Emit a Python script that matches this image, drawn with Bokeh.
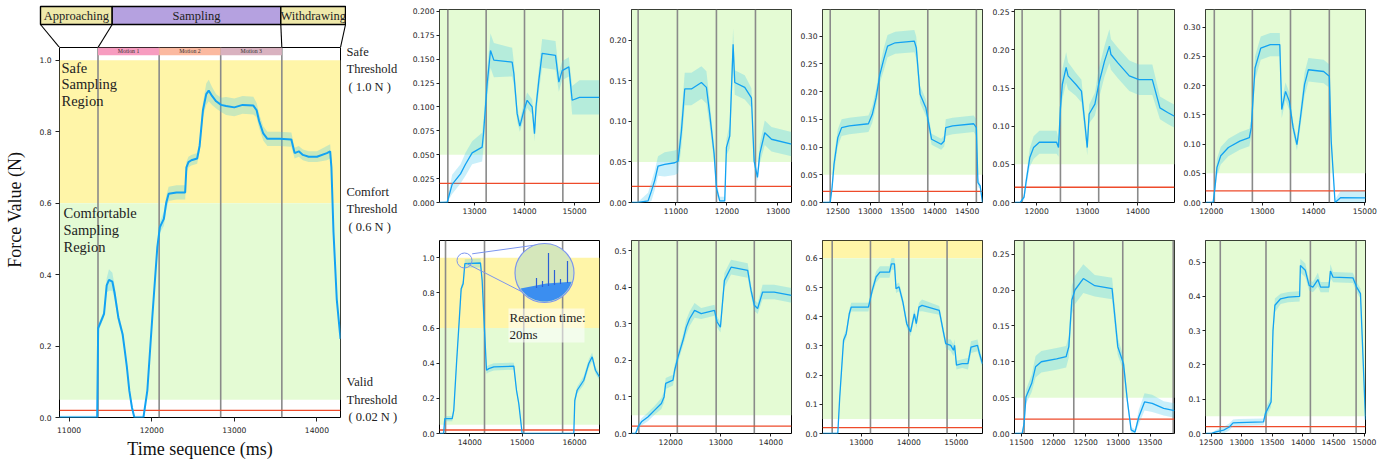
import numpy as np
from bokeh.plotting import figure
from bokeh.layouts import row, column
from bokeh.models import Range1d, FixedTicker, PrintfTickFormatter, Span, BoxAnnotation
from bokeh.core.properties import value
from bokeh.embed import file_html
from bokeh.resources import INLINE

# ---------------------------------------------------------------- data
main_t = [10884, 11340, 11352, 11423, 11455, 11483, 11524, 11550, 11596, 11648, 11675, 11700, 11729, 11761,
          11790, 11900, 11947, 12007, 12068, 12099, 12147, 12175, 12205, 12300, 12405, 12420, 12445, 12480,
          12550, 12580, 12620, 12660, 12690, 12730, 12780, 12840, 12900, 13000, 13100, 13230, 13270, 13300,
          13350, 13400, 13550, 13690, 13730, 13780, 13830, 13900, 14000, 14120, 14160, 14175, 14200, 14240, 14285]
main_v = [0.0, 0.0, 0.25, 0.29, 0.37, 0.385, 0.38, 0.35, 0.28, 0.233, 0.186, 0.14, 0.075, 0.028,
          0.0, 0.0, 0.075, 0.28, 0.477, 0.533, 0.556, 0.60, 0.626, 0.63, 0.63, 0.70, 0.715, 0.72,
          0.725, 0.76, 0.86, 0.905, 0.915, 0.90, 0.885, 0.875, 0.872, 0.868, 0.875, 0.873, 0.86, 0.83,
          0.795, 0.78, 0.78, 0.778, 0.74, 0.745, 0.735, 0.73, 0.73, 0.74, 0.745, 0.70, 0.52, 0.33, 0.22]
main_s = [0.005, 0.005, 0.01, 0.01, 0.02, 0.03, 0.025, 0.02, 0.015, 0.01, 0.01, 0.01, 0.01, 0.01,
          0.005, 0.005, 0.01, 0.01, 0.01, 0.015, 0.02, 0.02, 0.02, 0.02, 0.02, 0.015, 0.015, 0.015,
          0.015, 0.015, 0.02, 0.03, 0.03, 0.025, 0.02, 0.02, 0.025, 0.025, 0.025, 0.025, 0.02, 0.02,
          0.02, 0.02, 0.02, 0.02, 0.015, 0.015, 0.015, 0.015, 0.015, 0.02, 0.02, 0.015, 0.01, 0.005, 0.005]
main_phases = [11350, 12090, 12835, 13575]
main_ytop = 1.0356
main_xticks = [11000, 12000, 13000, 14000]
main_yticks = [0.0, 0.2, 0.4, 0.6, 0.8, 1.0]
phase_names = ["Approaching", "Sampling", "Withdrawing"]
motion_names = ["Motion 1", "Motion 2", "Motion 3"]
safe_thr, comfort_thr, valid_thr, valid_band = 1.0, 0.6, 0.02, 0.05

t1 = [12300, 12453, 12553, 12720, 12820, 12953, 13153, 13180, 13253, 13320, 13387, 13753, 13787, 13853, 13907,
      13987, 14053, 14153, 14200, 14230, 14287, 14353, 14620, 14687, 14753, 14887, 14953, 15100, 15500]
v1 = [0.0, 0.0, 0.019, 0.030, 0.040, 0.052, 0.058, 0.072, 0.124, 0.159, 0.149, 0.147, 0.135, 0.093, 0.080,
      0.096, 0.107, 0.100, 0.072, 0.100, 0.128, 0.156, 0.154, 0.126, 0.138, 0.142, 0.107, 0.110, 0.110]
s1 = [0.0, 0.002, 0.01, 0.01, 0.012, 0.012, 0.015, 0.015, 0.015, 0.018, 0.018, 0.015, 0.012, 0.008, 0.006,
      0.008, 0.008, 0.008, 0.008, 0.01, 0.012, 0.015, 0.015, 0.01, 0.01, 0.01, 0.015, 0.018, 0.018]

t2 = [10130, 10260, 10455, 10520, 10584, 10650, 10780, 10977, 11043, 11108, 11173, 11304, 11500, 11598, 11663,
      11749, 11794, 11859, 11957, 11990, 12055, 12121, 12153, 12349, 12480, 12533, 12598, 12643, 12741, 12873, 13265]
v2 = [0.0, 0.0, 0.002, 0.014, 0.027, 0.045, 0.047, 0.049, 0.051, 0.088, 0.140, 0.140, 0.148, 0.142, 0.109,
      0.060, 0.018, 0.002, 0.002, 0.068, 0.082, 0.195, 0.148, 0.142, 0.129, 0.051, 0.031, 0.060, 0.086, 0.078, 0.072]
s2 = [0.0, 0.001, 0.01, 0.012, 0.012, 0.012, 0.015, 0.015, 0.015, 0.02, 0.02, 0.02, 0.02, 0.02, 0.015,
      0.01, 0.008, 0.005, 0.005, 0.01, 0.015, 0.02, 0.015, 0.015, 0.012, 0.008, 0.005, 0.012, 0.015, 0.015, 0.015]

t3 = [12263, 12382, 12411, 12441, 12500, 12559, 12678, 12973, 13033, 13092, 13151, 13210, 13269, 13388,
      13683, 13713, 13772, 13861, 13950, 14098, 14145, 14169, 14275, 14601, 14642, 14666, 14701, 14737]
v3 = [0.0, 0.0, 0.027, 0.069, 0.117, 0.135, 0.138, 0.142, 0.159, 0.189, 0.231, 0.258, 0.282, 0.288,
      0.291, 0.279, 0.195, 0.171, 0.114, 0.105, 0.111, 0.135, 0.138, 0.142, 0.135, 0.036, 0.030, 0.0]
s3 = [0.0, 0.002, 0.01, 0.015, 0.015, 0.015, 0.015, 0.015, 0.015, 0.015, 0.015, 0.02, 0.02, 0.02,
      0.02, 0.02, 0.015, 0.015, 0.01, 0.01, 0.01, 0.015, 0.015, 0.015, 0.015, 0.008, 0.005, 0.0]

t4 = [11561, 11674, 11750, 11788, 11864, 11939, 12053, 12394, 12432, 12470, 12508, 12583, 12621, 12773, 12886,
      12962, 13000, 13038, 13152, 13227, 13341, 13439, 13470, 13606, 13833, 14023, 14288, 14439, 14591, 14727]
v4 = [0.0, 0.0, 0.007, 0.026, 0.059, 0.072, 0.079, 0.079, 0.072, 0.124, 0.155, 0.177, 0.166, 0.155, 0.146,
      0.098, 0.072, 0.116, 0.129, 0.155, 0.185, 0.205, 0.194, 0.183, 0.166, 0.161, 0.161, 0.124, 0.118, 0.113]
s4 = [0.0, 0.0, 0.004, 0.008, 0.012, 0.015, 0.015, 0.015, 0.012, 0.015, 0.02, 0.02, 0.018, 0.015, 0.015,
      0.012, 0.01, 0.012, 0.015, 0.02, 0.02, 0.022, 0.02, 0.02, 0.02, 0.02, 0.02, 0.015, 0.015, 0.015]

t5 = [11888, 12037, 12074, 12112, 12186, 12335, 12558, 12745, 12782, 12856, 12968, 13154, 13340, 13378,
      13452, 13526, 13601, 13675, 13735, 13824, 13899, 14197, 14308, 14345, 14420, 14532, 15015]
v5 = [0.0, 0.0, 0.026, 0.060, 0.080, 0.094, 0.105, 0.111, 0.128, 0.230, 0.264, 0.270, 0.270, 0.159,
      0.190, 0.173, 0.128, 0.099, 0.139, 0.202, 0.227, 0.224, 0.216, 0.105, 0.0, 0.0085, 0.008]
s5 = [0.0, 0.002, 0.01, 0.015, 0.015, 0.015, 0.015, 0.015, 0.015, 0.02, 0.02, 0.02, 0.02, 0.015,
      0.015, 0.015, 0.01, 0.01, 0.015, 0.02, 0.02, 0.02, 0.02, 0.01, 0.005, 0.012, 0.012]

t6 = [13421, 13500, 13522, 13664, 13694, 13746, 13790, 13835, 13873, 13905, 14204, 14236, 14281, 14319,
      14363, 14459, 14841, 14892, 14936, 15000, 15987, 16006, 16051, 16178, 16273, 16338, 16401, 16478]
v6 = [0.0, 0.0, 0.085, 0.085, 0.133, 0.398, 0.606, 0.824, 0.852, 0.966, 0.970, 0.871, 0.587, 0.360,
      0.369, 0.379, 0.383, 0.246, 0.170, 0.0, 0.0, 0.189, 0.246, 0.303, 0.398, 0.436, 0.360, 0.322]
s6 = [0.0, 0.005, 0.015, 0.015, 0.015, 0.02, 0.02, 0.02, 0.02, 0.025, 0.025, 0.02, 0.02, 0.02,
      0.02, 0.02, 0.02, 0.015, 0.01, 0.0, 0.0, 0.02, 0.02, 0.025, 0.025, 0.025, 0.02, 0.02]

t7 = [11219, 11300, 11352, 11418, 11551, 11682, 11815, 11869, 11901, 12047, 12080, 12146, 12246, 12312, 12378,
      12477, 12610, 12874, 12927, 12993, 13073, 13206, 13537, 13603, 13669, 13735, 13835, 14066, 14411]
v7 = [0.0, 0.0, 0.018, 0.032, 0.046, 0.064, 0.082, 0.100, 0.137, 0.146, 0.173, 0.209, 0.255, 0.291, 0.314,
      0.337, 0.328, 0.337, 0.305, 0.291, 0.419, 0.455, 0.446, 0.392, 0.351, 0.342, 0.387, 0.387, 0.378]
s7 = [0.0, 0.002, 0.008, 0.01, 0.012, 0.012, 0.015, 0.015, 0.015, 0.015, 0.015, 0.015, 0.015, 0.02, 0.02,
      0.02, 0.015, 0.015, 0.015, 0.015, 0.02, 0.02, 0.02, 0.015, 0.015, 0.015, 0.02, 0.02, 0.02]

t8 = [12183, 12505, 12546, 12626, 12683, 12747, 12788, 13150, 13231, 13311, 13392, 13594, 13634, 13698, 13731,
      13795, 13876, 13956, 14037, 14117, 14158, 14214, 14279, 14641, 14722, 14778, 14883, 14940, 14964, 15004,
      15125, 15246, 15310, 15447, 15488, 15552]
v8 = [0.0, 0.0, 0.125, 0.319, 0.342, 0.41, 0.433, 0.433, 0.49, 0.536, 0.553, 0.553, 0.581, 0.581, 0.496,
      0.502, 0.45, 0.376, 0.348, 0.41, 0.376, 0.433, 0.439, 0.422, 0.353, 0.308, 0.302, 0.285, 0.302, 0.234,
      0.239, 0.239, 0.296, 0.302, 0.274, 0.239]
s8 = [0.0, 0.003, 0.015, 0.015, 0.015, 0.015, 0.015, 0.015, 0.015, 0.02, 0.02, 0.02, 0.02, 0.02, 0.015,
      0.015, 0.015, 0.015, 0.015, 0.015, 0.015, 0.015, 0.02, 0.015, 0.015, 0.015, 0.02, 0.02, 0.02, 0.015,
      0.015, 0.02, 0.02, 0.02, 0.015, 0.015]

t9 = [11393, 11512, 11542, 11571, 11660, 11720, 11809, 12046, 12194, 12236, 12283, 12331, 12461, 12639,
      12907, 12936, 12996, 13085, 13144, 13203, 13263, 13322, 13411, 13530, 13708, 13876]
v9 = [0.0, 0.0, 0.014, 0.051, 0.070, 0.093, 0.100, 0.104, 0.107, 0.121, 0.186, 0.200, 0.216, 0.206,
      0.202, 0.176, 0.121, 0.097, 0.046, 0.005, 0.002, 0.023, 0.044, 0.042, 0.035, 0.032]
s9 = [0.0, 0.001, 0.005, 0.01, 0.012, 0.015, 0.015, 0.015, 0.015, 0.015, 0.02, 0.02, 0.02, 0.015,
      0.015, 0.015, 0.012, 0.01, 0.008, 0.004, 0.004, 0.01, 0.012, 0.012, 0.01, 0.01]

t10 = [12410, 12500, 12581, 12705, 12798, 12860, 12953, 13356, 13387, 13480, 13511, 13542, 13635, 13759,
       13945, 13958, 14038, 14100, 14162, 14243, 14287, 14423, 14448, 14491, 14814, 14876, 14938, 15020]
v10 = [0.0, 0.0, 0.005, 0.010, 0.019, 0.031, 0.032, 0.034, 0.058, 0.092, 0.300, 0.374, 0.393, 0.398,
       0.400, 0.490, 0.476, 0.432, 0.427, 0.449, 0.427, 0.427, 0.474, 0.456, 0.454, 0.427, 0.408, 0.04]
s10 = [0.0, 0.002, 0.005, 0.01, 0.01, 0.01, 0.01, 0.01, 0.015, 0.015, 0.02, 0.02, 0.015, 0.015,
       0.015, 0.02, 0.02, 0.015, 0.015, 0.02, 0.015, 0.015, 0.02, 0.015, 0.015, 0.015, 0.015, 0.01]

phases = [[12467, 13233, 14000, 14767], [10260, 11030, 11794, 12559], [12382, 13139, 13891, 14642],
          [11712, 12470, 13227, 14000], [12060, 12804, 13549, 14308], [13536, 14281, 15031, 15773],
          [11365, 12133, 12908, 13669], [12387, 13193, 14000, 14806], [11542, 12313, 13073, 13856],
          [12651, 13397, 14121, 14867]]
ytops = [0.202, 0.238, 0.348, 0.253, 0.33, 1.098, 0.528, 0.661, 0.269, 0.563]
yticks = [[0, 0.025, 0.05, 0.075, 0.1, 0.125, 0.15, 0.175, 0.2], [0, 0.05, 0.1, 0.15, 0.2],
          [0, 0.05, 0.1, 0.15, 0.2, 0.25, 0.3], [0, 0.05, 0.1, 0.15, 0.2, 0.25],
          [0, 0.05, 0.1, 0.15, 0.2, 0.25, 0.3], [0, 0.2, 0.4, 0.6, 0.8, 1.0],
          [0, 0.1, 0.2, 0.3, 0.4, 0.5], [0, 0.1, 0.2, 0.3, 0.4, 0.5, 0.6],
          [0, 0.05, 0.1, 0.15, 0.2, 0.25], [0, 0.1, 0.2, 0.3, 0.4, 0.5]]
yfmts = ["%.3f", "%.2f", "%.2f", "%.2f", "%.2f", "%.1f", "%.1f", "%.1f", "%.2f", "%.1f"]
xticks = [[13000, 14000, 15000], [11000, 12000, 13000], [12500, 13000, 13500, 14000, 14500],
          [12000, 13000, 14000], [12000, 13000, 14000, 15000], [14000, 15000, 16000],
          [12000, 13000, 14000], [13000, 14000, 15000], [11500, 12000, 12500, 13000, 13500],
          [12500, 13000, 13500, 14000, 14500, 15000]]
ts = [t1, t2, t3, t4, t5, t6, t7, t8, t9, t10]
vs = [v1, v2, v3, v4, v5, v6, v7, v8, v9, v10]
ss = [s1, s2, s3, s4, s5, s6, s7, s8, s9, s10]

# ---------------------------------------------------------------- style
SERIF = "Liberation Serif"
SANS = "DejaVu Sans"
BLUE = "#12a2f2"
BAND = "#3cc6ee"
YELLOW = "#fff5a8"
GREEN = "#e4fbd4"
RED = "#ee4b2b"
GRAY = "#8a8a8a"
KHAKI = "#efe9aa"
PURPLE = "#b5a1e0"
MOTION = ["#f79cc0", "#fbb9a0", "#d9b2c0"]
INSET = "#7b95ee"
TICK_FS = "7.6px"


def new_fig(w, h, xr, yr, mbl=0, mbr=0, mbt=0, mbb=0, axes=True):
    kw = {}
    if not axes:
        kw = dict(x_axis_location=None, y_axis_location=None)
    p = figure(width=w, height=h, x_range=xr, y_range=yr, title=None,
               min_border_left=mbl, min_border_right=mbr, min_border_top=mbt, min_border_bottom=mbb,
               output_backend="svg", toolbar_location=None, **kw)
    p.xgrid.visible = False
    p.ygrid.visible = False
    p.background_fill_color = "white"
    p.border_fill_color = "white"
    p.outline_line_color = "black" if axes else None
    p.outline_line_width = 1
    return p


def style_axes(p, xt, yt, yfmt, tick_out=3, standoff=2):
    for ax in (p.xaxis[0], p.yaxis[0]):
        ax.major_label_text_font = SANS
        ax.major_label_text_font_size = TICK_FS
        ax.major_label_text_color = "#222222"
        ax.major_tick_out = tick_out
        ax.major_tick_in = 0
        ax.minor_tick_out = 0
        ax.minor_tick_in = 0
        ax.axis_line_color = None
        ax.major_tick_line_color = "#222222"
        ax.major_label_standoff = standoff
    p.xaxis[0].ticker = FixedTicker(ticks=xt)
    p.xaxis[0].formatter = PrintfTickFormatter(format="%d")
    p.yaxis[0].ticker = FixedTicker(ticks=yt)
    p.yaxis[0].formatter = PrintfTickFormatter(format=yfmt)


def draw_series(p, t, v, s, lw):
    t = np.array(t, dtype=float)
    v = np.array(v, dtype=float)
    s = np.array(s, dtype=float)
    p.varea(x=t, y1=np.maximum(v - s, 0), y2=v + s, fill_color=BAND, fill_alpha=0.28)
    p.line(t, v, line_color=BLUE, line_width=lw)


# ---------------------------------------------------------------- layout geometry (page px, origin 0)
HEADER_H = 47                       # main frame top
MAIN_FRAME_L, MAIN_FRAME_R = 59, 340
MAIN_FRAME_H = 370
PAGE_H = 462
LABEL_W = 30
LEFT_W = 346                        # header / main block width
TEXT_W = 63                         # threshold text column
MAIN_W = LEFT_W - LABEL_W
MAIN_H = PAGE_H - HEADER_H

# ---------------------------------------------------------------- main panel
main_fig = new_fig(MAIN_W, MAIN_H, Range1d(main_t[0], main_t[-1]), Range1d(0, main_ytop),
                   mbl=MAIN_FRAME_L - LABEL_W, mbr=LEFT_W - MAIN_FRAME_R, mbt=0, mbb=MAIN_H - MAIN_FRAME_H)
style_axes(main_fig, main_xticks, main_yticks, "%.1f", tick_out=4, standoff=4)
main_fig.xaxis[0].major_label_standoff = 5
main_fig.xaxis[0].axis_label = "Time sequence (ms)"
main_fig.xaxis[0].axis_label_text_font = SERIF
main_fig.xaxis[0].axis_label_text_font_size = "18px"
main_fig.xaxis[0].axis_label_text_font_style = "normal"
main_fig.xaxis[0].axis_label_text_color = "#111111"
main_fig.xaxis[0].axis_label_standoff = 3

main_fig.add_layout(BoxAnnotation(bottom=comfort_thr, top=safe_thr, fill_color=YELLOW, fill_alpha=1,
                                  line_color=None, level="underlay"))
main_fig.add_layout(BoxAnnotation(bottom=valid_band, top=comfort_thr, fill_color=GREEN, fill_alpha=1,
                                  line_color=None, level="underlay"))
for x in main_phases:
    main_fig.add_layout(Span(location=x, dimension="height", line_color=GRAY, line_width=1.6, level="underlay"))
main_fig.add_layout(Span(location=valid_thr, dimension="width", line_color=RED, line_width=1.4, level="underlay"))
main_fig.quad(left=main_phases[:-1], right=main_phases[1:], bottom=1.014, top=main_ytop,
              fill_color=MOTION, line_color=None)
main_fig.text(x=[(a + b) / 2 for a, b in zip(main_phases[:-1], main_phases[1:])],
              y=[(1.014 + main_ytop) / 2] * 3, text=motion_names, text_font=value(SERIF),
              text_font_size="5.8px", text_align="center", text_baseline="middle", text_color="#333333")
draw_series(main_fig, main_t, main_v, main_s, 2.0)

for i, w in enumerate(["Safe", "Sampling", "Region"]):
    main_fig.text(x=[main_t[0]], y=[safe_thr], text=[w], x_offset=2, y_offset=7.3 + 16.9 * i,
                  text_font=value(SERIF), text_font_size="14.5px", text_baseline="middle",
                  text_color="#222222")
for i, w in enumerate(["Comfortable", "Sampling", "Region"]):
    main_fig.text(x=[main_t[0]], y=[comfort_thr], text=[w], x_offset=4, y_offset=10 + 17 * i,
                  text_font=value(SERIF), text_font_size="14.5px", text_baseline="middle",
                  text_color="#222222")

# y axis label strip
label_fig = new_fig(LABEL_W, MAIN_H, Range1d(0, LABEL_W), Range1d(0, MAIN_H), axes=False)
label_fig.text(x=[14], y=[MAIN_H - (229 - HEADER_H)], text=["Force Value (N)"], angle=np.pi / 2,
               text_font=value(SERIF), text_font_size="18px", text_align="center",
               text_baseline="middle", text_color="#111111")

# right-hand threshold texts (full height column)
ppu = MAIN_FRAME_H / main_ytop
text_fig = new_fig(TEXT_W, PAGE_H, Range1d(0, TEXT_W),
                   Range1d(main_ytop - (PAGE_H - HEADER_H) / ppu, main_ytop + HEADER_H / ppu), axes=False)
thr_blocks = [(safe_thr, ["Safe", "Threshold", "( 1.0 N )"], [-8.3, 9, 26.3]),
              (comfort_thr, ["Comfort", "Threshold", "( 0.6 N )"], [-11, 6.3, 24]),
              (valid_thr, ["Valid", "Threshold", "( 0.02 N )"], [-27.9, -10.6, 7.1])]
for thr, words, offs in thr_blocks:
    for j, (w, o) in enumerate(zip(words, offs)):
        text_fig.text(x=[0], y=[thr], text=[w], x_offset=2 if j == 2 else 0, y_offset=o,
                      text_font=value(SERIF), text_font_size="12.5px", text_baseline="middle",
                      text_color="#222222")

# header with phases
upp = (main_t[-1] - main_t[0]) / (MAIN_FRAME_R - MAIN_FRAME_L)


def hx(px):
    return main_t[0] + (px - MAIN_FRAME_L) * upp


header_fig = new_fig(LEFT_W, HEADER_H, Range1d(hx(0), hx(LEFT_W)), Range1d(0, HEADER_H), axes=False)
box_px = [40, 111.7, 280.3, LEFT_W - 1]
box_l = [hx(v) for v in box_px[:-1]]
box_r = [hx(v) for v in box_px[1:]]
box_top, box_bot = HEADER_H - 6, HEADER_H - 24
header_fig.quad(left=box_l, right=box_r, bottom=box_bot, top=box_top, fill_color=[KHAKI, PURPLE, KHAKI],
                line_color="black", line_width=1.4)
header_fig.text(x=[(a + b) / 2 for a, b in zip(box_l, box_r)], y=[(box_top + box_bot) / 2] * 3,
                text=phase_names, text_font=value(SERIF), text_font_size="12.5px", text_align="center",
                text_baseline="middle", text_color="#222222")
header_fig.segment(x0=[hx(v) for v in box_px], y0=[box_bot] * 4,
                   x1=[main_t[0], main_phases[0], main_phases[-1], main_t[-1]], y1=[0] * 4,
                   line_color="black", line_width=1.1)

# ---------------------------------------------------------------- small panels
SUB_W = [192, 191, 192, 191, 205]
FRAME_W, FRAME_H = 160, 193
TOP_ROW_H, TOP_MBT = 240, 9
BOT_ROW_H = PAGE_H - TOP_ROW_H
subs = []
for k in range(10):
    top = k < 5
    w = SUB_W[k % 5]
    h = TOP_ROW_H if top else BOT_ROW_H
    mbt = TOP_MBT if top else 0
    t, v, s = ts[k], vs[k], ss[k]
    p = new_fig(w, h, Range1d(t[0], t[-1]), Range1d(0, ytops[k]), mbl=30, mbr=w - 30 - FRAME_W,
                mbt=mbt, mbb=h - mbt - FRAME_H)
    style_axes(p, xticks[k], yticks[k], yfmts[k])
    if k == 5:
        p.add_layout(BoxAnnotation(bottom=comfort_thr, top=safe_thr, fill_color=YELLOW, fill_alpha=1,
                                   line_color=None, level="underlay"))
        p.add_layout(BoxAnnotation(bottom=valid_band, top=comfort_thr, fill_color=GREEN, fill_alpha=1,
                                   line_color=None, level="underlay"))
    elif k == 7:
        p.add_layout(BoxAnnotation(bottom=comfort_thr, fill_color=YELLOW, fill_alpha=1,
                                   line_color=None, level="underlay"))
        p.add_layout(BoxAnnotation(bottom=valid_band, top=comfort_thr, fill_color=GREEN, fill_alpha=1,
                                   line_color=None, level="underlay"))
    else:
        p.add_layout(BoxAnnotation(bottom=valid_band, fill_color=GREEN, fill_alpha=1,
                                   line_color=None, level="underlay"))
    for x in phases[k]:
        p.add_layout(Span(location=x, dimension="height", line_color=GRAY, line_width=1.6, level="underlay"))
    p.add_layout(Span(location=valid_thr, dimension="width", line_color=RED, line_width=1.3, level="underlay"))
    draw_series(p, t, v, s, 1.3)
    subs.append(p)

# zoom inset on panel 6 (positions in frame pixels)
p6 = subs[5]
ux = (t6[-1] - t6[0]) / FRAME_W
uy = ytops[5] / FRAME_H


def sx(px):
    return t6[0] + px * ux


def sy(py):
    return ytops[5] - py * uy


p6.segment(x0=[sx(32.7), sx(27.7)], y0=[sy(13.3), sy(23.3)], x1=[sx(97.7), sx(88.3)], y1=[sy(4.3), sy(54.3)],
           line_color=INSET, line_width=1)
p6.scatter(x=[sx(25)], y=[sy(20)], size=15, marker="circle", fill_color=None, line_color=INSET, line_width=1)
cx, cy, R = 105, 32.5, 29.5
p6.scatter(x=[sx(cx)], y=[sy(cy)], size=2 * R, marker="circle", fill_color="#d5e7bb",
           line_color=INSET, line_width=1.2)
ang = np.radians(np.linspace(17.8, 147.2, 30))
seg_x = list(cx + (R - 1) * np.cos(ang)) + [cx + 2]
seg_y = list(cy + (R - 1) * np.sin(ang)) + [cy + 10.5]
p6.patch(x=[sx(a) for a in seg_x], y=[sy(b) for b in seg_y], fill_color="#3b8ef0", line_color=None)
spikes = [(-8, 15, 5), (-2, 14, 8), (4, 13, -20), (10, 12, -3), (16, 11, 6), (23, 10, -12)]
p6.segment(x0=[sx(cx + d) for d, _, _ in spikes], y0=[sy(cy + b) for _, b, _ in spikes],
           x1=[sx(cx + d) for d, _, _ in spikes], y1=[sy(cy + tp) for _, _, tp in spikes],
           line_color="#2c5fd4", line_width=1.2)
p6.quad(left=[sx(69)], right=[sx(145)], top=[sy(68)], bottom=[sy(102)], fill_color="white",
        fill_alpha=0.55, line_color=None)
p6.text(x=[sx(70), sx(70)], y=[sy(76.7), sy(94)], text=["Reaction time:", "20ms"],
        text_font=value(SERIF), text_font_size="13px", text_baseline="middle", text_color="#222222")

# ---------------------------------------------------------------- layout
left_block = row(column(header_fig, row(label_fig, main_fig)), text_fig)
right_block = column(row(*subs[:5]), row(*subs[5:]))
root = row(left_block, right_block)

open("out.html", "w").write(file_html(root, INLINE))
